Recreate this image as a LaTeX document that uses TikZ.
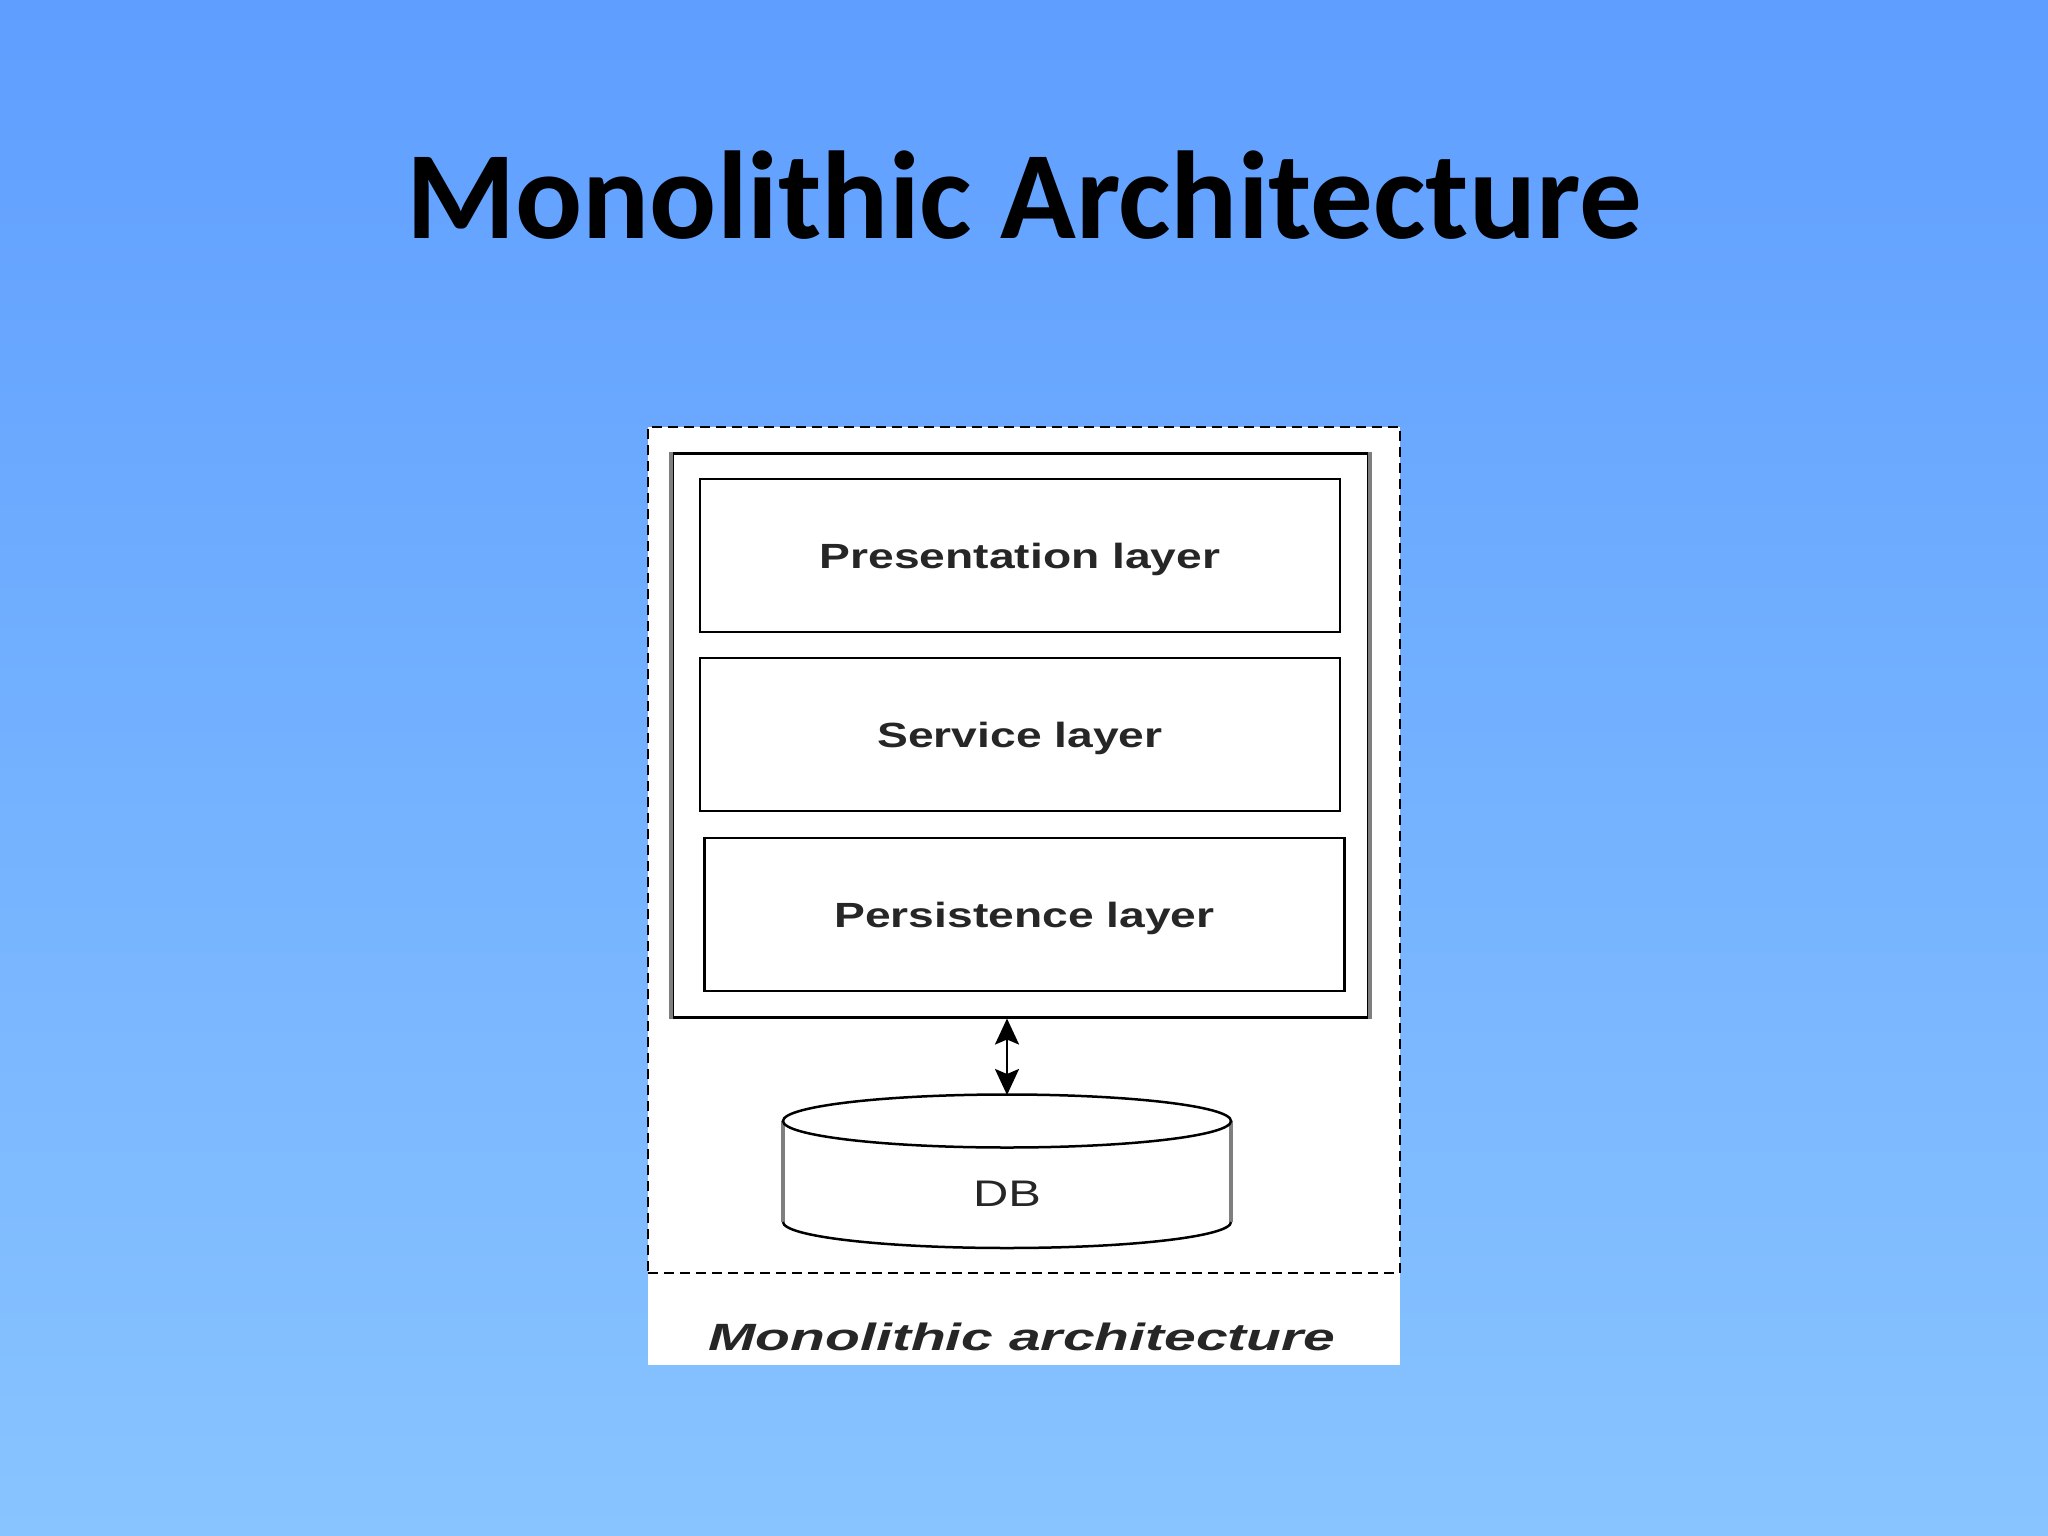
\documentclass[tikz,border=0pt]{standalone}
\usepackage{fontspec}
\usepackage{xcolor}
\usetikzlibrary{arrows.meta}
\setmainfont{Liberation Sans}
\newfontfamily\titlefont{Carlito}
\newfontfamily\diagfont{Liberation Sans}[FakeStretch=1.32]
\newfontfamily\captionfont{Liberation Sans}[FakeStretch=1.5]
\definecolor{sky-top}{HTML}{5F9EFF}
\definecolor{sky-bottom}{HTML}{88C4FF}
\definecolor{ink}{HTML}{262626}
\definecolor{edge-grey}{HTML}{7F7F7F}

\begin{document}
\begin{tikzpicture}[x=1pt, y=-1pt,
    layerbox/.style={draw=black, line width=2.5pt, fill=white, minimum width=640pt,
          minimum height=153pt, inner sep=0pt, text=ink,
          font=\diagfont\bfseries\fontsize{35}{40}\selectfont, text height=25pt, text depth=0pt},
    arrowline/.style={line width=2.5pt, {Stealth[length=26pt, width=24pt, inset=5pt]}-{Stealth[length=26pt, width=24pt, inset=5pt]}}]
    \useasboundingbox (0,0) rectangle (2048,1536);
    \shade[top color=sky-top, bottom color=sky-bottom] (0,0) rectangle (2048,1536);
    \node[font=\titlefont\bfseries\fontsize{125}{130}\selectfont, anchor=base] (title)
          at (1024,238) {Monolithic Architecture};
    % the figure itself, on a white card
    \fill[white] (648,427) rectangle (1400,1365);
    \node[draw=black, line width=2.5pt, dash pattern=on 10pt off 6pt,
          minimum width=752pt, minimum height=846pt, inner sep=0pt] (frame) at (1024,850) {};
    \node[draw=black, line width=3pt, minimum width=696pt, minimum height=564pt,
          inner sep=0pt] (app) at (1020,735) {};
    \draw[edge-grey, line width=4pt] (app.north west) -- (app.south west);
    \draw[edge-grey, line width=4pt] (app.north east) -- (app.south east);
    \node[layerbox] (pres) at (1020,555.5) {Presentation layer};
    \node[layerbox] (serv) at (1020,734.5) {Service layer};
    \node[layerbox] (pers) at (1024.5,914.5) {Persistence layer};
    % database drum
    \coordinate (dbtop) at (1007,1095);
    \draw[edge-grey, line width=3.5pt] (783,1121) -- (783,1222);
    \draw[edge-grey, line width=3.5pt] (1231,1121) -- (1231,1222);
    \draw[black, line width=2.5pt] (783,1222) arc[start angle=180, end angle=0, x radius=224, y radius=26];
    \draw[black, line width=2.5pt, fill=white] (1007,1121) ellipse [x radius=224, y radius=26.5];
    \node[font=\diagfont\fontsize{37}{40}\selectfont, text=ink, text height=27pt, text depth=0pt,
          inner sep=0pt] (db) at (1007,1193) {DB};
    \draw[arrowline] (dbtop |- app.south) -- (dbtop);
    \node[font=\captionfont\bfseries\itshape\fontsize{38}{40}\selectfont, text=ink, anchor=base] (caption)
          at (1022,1350) {Monolithic architecture};
\end{tikzpicture}
\end{document}
